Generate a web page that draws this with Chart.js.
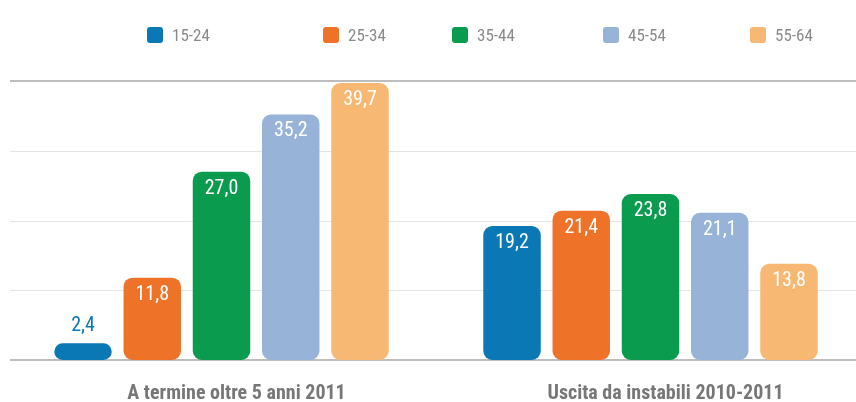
<!DOCTYPE html>
<html>
<head>
<meta charset="utf-8">
<script src="https://cdn.jsdelivr.net/npm/chart.js@4.4.1/dist/chart.umd.min.js"></script>
<style>
  html, body { margin: 0; padding: 0; background: #fff; overflow: hidden; }
  #wrap { width: 856px; height: 402px; overflow: hidden; }
  canvas { display: block; }
</style>
</head>
<body>
<div id="wrap"><canvas id="grafico" width="866" height="402"></canvas></div>
<script>
// ===== dati =====
const categorie = ['A termine oltre 5 anni 2011', 'Uscita da instabili 2010-2011'];
const fasce = ['15-24', '25-34', '35-44', '45-54', '55-64'];
const eta15_24 = [2.4, 19.2];
const eta25_34 = [11.8, 21.4];
const eta35_44 = [27.0, 23.8];
const eta45_54 = [35.2, 21.1];
const eta55_64 = [39.7, 13.8];
const colori = ['#0a78b4', '#ee7328', '#0a9b4f', '#97b4d8', '#f6b872'];
const tickY = [0, 10, 20, 30, 40];

const serie = [eta15_24, eta25_34, eta35_44, eta45_54, eta55_64];
const FONT = "Roboto, 'Open Sans', sans-serif";
const fmt = v => v.toFixed(1).replace('.', ',');

// ===== plugin: griglia orizzontale =====
const griglia = {
  id: 'griglia',
  beforeDatasetsDraw(chart) {
    const y = chart.scales.y, c = chart.ctx;
    tickY.forEach(v => {
      const py = Math.round(y.getPixelForValue(v));
      const forte = v === tickY[0] || v === tickY[tickY.length - 1];
      c.save();
      c.strokeStyle = forte ? '#bdbdbd' : '#e4e4e4';
      c.lineWidth = forte ? 2 : 1;
      c.beginPath();
      c.moveTo(10, forte ? py : py + 0.5);
      c.lineTo(856, forte ? py : py + 0.5);
      c.stroke();
      c.restore();
    });
  }
};

// ===== plugin: etichette valori =====
const etichette = {
  id: 'etichette',
  afterDatasetsDraw(chart) {
    const c = chart.ctx;
    c.save();
    c.font = 'condensed 20px ' + FONT;
    c.textAlign = 'center';
    c.textBaseline = 'middle';
    chart.data.datasets.forEach((ds, di) => {
      chart.getDatasetMeta(di).data.forEach((bar, i) => {
        const v = ds.data[i];
        if (v < 5) {
          c.fillStyle = ds.backgroundColor;
          c.fillText(fmt(v), bar.x, bar.y - 17);
        } else {
          c.fillStyle = '#fff';
          c.fillText(fmt(v), bar.x, bar.y + 17);
        }
      });
    });
    c.restore();
  }
};

// ===== plugin: legenda =====
const legendaX = [147, 323, 452, 603, 750];
const legenda = {
  id: 'legenda',
  afterDraw(chart) {
    const c = chart.ctx;
    c.save();
    c.font = 'condensed 17px ' + FONT;
    c.textBaseline = 'middle';
    chart.data.datasets.forEach((ds, i) => {
      const x = legendaX[i];
      c.fillStyle = ds.backgroundColor;
      c.beginPath();
      c.roundRect(x, 27, 16, 16, 3);
      c.fill();
      c.fillStyle = '#8a8a8a';
      c.fillText(ds.label, x + 25, 37);
    });
    c.restore();
  }
};

// ===== grafico =====
const chart = new Chart(document.getElementById('grafico').getContext('2d'), {
  type: 'bar',
  data: {
    labels: categorie,
    datasets: fasce.map((f, i) => ({
      label: f,
      data: serie[i],
      backgroundColor: colori[i],
      borderRadius: 9,
      borderSkipped: false,
      barPercentage: 0.83,
      categoryPercentage: 0.807
    }))
  },
  options: {
    responsive: false,
    animation: false,
    layout: { padding: { left: 7, right: 1, top: 81, bottom: 0 } },
    plugins: {
      legend: { display: false },
      tooltip: { enabled: false }
    },
    scales: {
      x: {
        grid: { display: false },
        border: { display: false },
        ticks: {
          color: '#777',
          font: { family: FONT, size: 20, weight: 'bold condensed' },
          padding: 14,
          labelOffset: 15
        },
        afterFit: s => { s.height = 42; }
      },
      y: {
        display: false,
        min: 0,
        max: 40,
        ticks: { stepSize: 10 }
      }
    }
  },
  plugins: [griglia, etichette, legenda]
});
</script>
</body>
</html>
